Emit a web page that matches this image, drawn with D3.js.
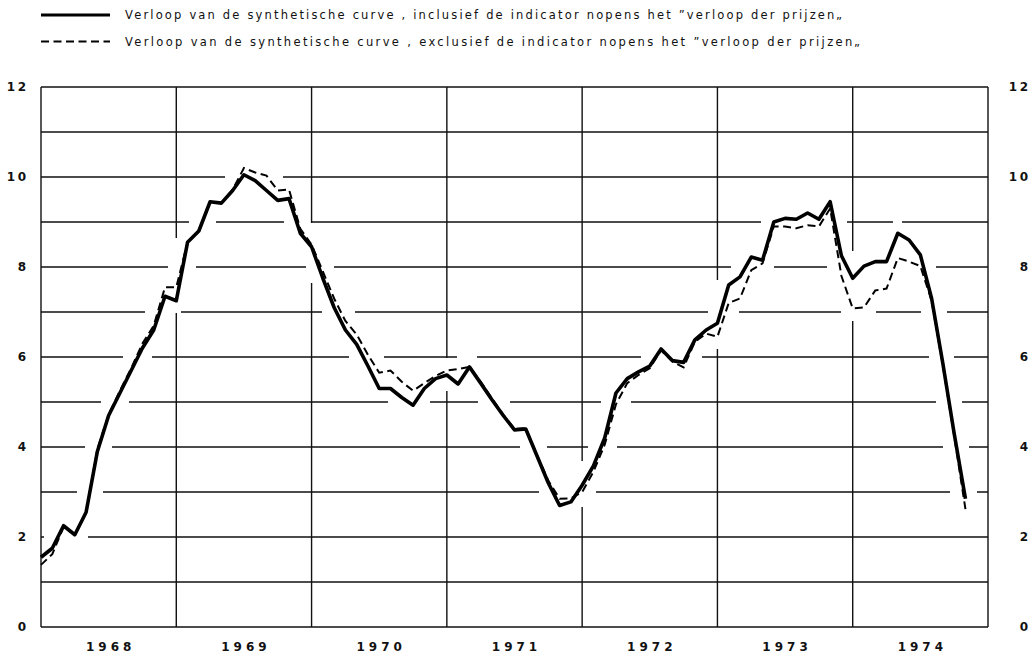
<!DOCTYPE html>
<html><head><meta charset="utf-8">
<script src="https://cdn.jsdelivr.net/npm/d3@7"></script>
<style>body{margin:0;background:#fff}</style>
</head><body>
<svg id="c" width="1035" height="658"></svg>
<script>
// ---- data ----
const years = ["1968","1969","1970","1971","1972","1973","1974"];
const yTicks = [0,2,4,6,8,10,12];
// monthly values, starting January 1968
const inclusief = [1.55,1.75,2.25,2.05,2.55,3.9,4.7,5.2,5.7,6.2,6.6,7.35,
  7.25,8.55,8.8,9.45,9.42,9.7,10.05,9.92,9.7,9.48,9.52,8.75,
  8.45,7.75,7.1,6.6,6.28,5.8,5.3,5.3,5.1,4.93,5.3,5.52,
  5.6,5.4,5.78,5.42,5.05,4.7,4.38,4.4,3.8,3.2,2.7,2.78,
  3.15,3.58,4.2,5.2,5.52,5.67,5.8,6.18,5.92,5.88,6.38,6.6,
  6.75,7.6,7.78,8.22,8.15,9.0,9.08,9.06,9.2,9.06,9.45,8.25,
  7.75,8.02,8.12,8.12,8.75,8.6,8.27,7.3,5.85,4.3,2.85];
const exclusief = [1.38,1.62,2.22,2.05,2.55,3.95,4.72,5.25,5.75,6.3,6.7,7.55,
  7.55,8.55,8.8,9.45,9.42,9.72,10.2,10.1,10.03,9.7,9.72,8.85,
  8.5,7.9,7.3,6.8,6.5,6.05,5.65,5.7,5.45,5.25,5.42,5.58,
  5.7,5.73,5.78,5.45,5.08,4.72,4.4,4.42,3.82,3.25,2.85,2.86,
  3.0,3.45,4.05,4.95,5.42,5.6,5.75,6.15,5.9,5.77,6.34,6.52,
  6.45,7.2,7.3,7.93,8.08,8.9,8.9,8.86,8.93,8.9,9.3,7.8,
  7.08,7.1,7.48,7.52,8.2,8.12,8.02,7.25,5.8,4.25,2.62];
const legendLabels = [
  "Verloop van de synthetische curve , inclusief de indicator nopens het \u201Dverloop der prijzen\u201E",
  "Verloop van de synthetische curve , exclusief de indicator nopens het \u201Dverloop der prijzen\u201E"
];

// ---- layout ----
const svg = d3.select("#c");
const x = d3.scaleLinear().domain([0, years.length*12]).range([41, 988]);
const y = d3.scaleLinear().domain([0, 12]).range([627, 87]);
const xBand = d3.scaleBand().domain(years).range([41, 988]);
const ink = "#111";

const ptsA = inclusief.map((v,i)=>[x(i), y(v)]);
const ptsB = exclusief.map((v,i)=>[x(i), y(v)]);
function distSeg(px,py,a,b){
  const dx=b[0]-a[0], dy=b[1]-a[1];
  let t=((px-a[0])*dx+(py-a[1])*dy)/(dx*dx+dy*dy);
  t=Math.max(0,Math.min(1,t));
  const qx=a[0]+t*dx-px, qy=a[1]+t*dy-py;
  return Math.sqrt(qx*qx+qy*qy);
}
function near(px,py,th){
  for(const pts of [ptsA,ptsB]){
    for(let i=0;i<pts.length-1;i++){
      if(distSeg(px,py,pts[i],pts[i+1])<th) return true;
    }
  }
  return false;
}
const TH = 12;
function brokenLine(x0,y0,x1,y1,doGap){
  const len = Math.hypot(x1-x0,y1-y0);
  const n = Math.ceil(len);
  let d = "", on = false;
  for(let k=0;k<=n;k++){
    const px = x0+(x1-x0)*k/n, py = y0+(y1-y0)*k/n;
    const vis = !doGap || !near(px,py,TH);
    if(vis && !on){ d += `M${px},${py}`; on = true; }
    else if(vis && on){ d += `L${px},${py}`; }
    else on = false;
  }
  return d;
}
const grid = svg.append("g").attr("stroke", ink).attr("stroke-width", 1.4).attr("fill","none");
d3.range(0,13).forEach(v=>{
  const gap = v>0 && v<12;
  grid.append("path").attr("d", brokenLine(x(0), y(v), x(years.length*12), y(v), gap));
});
d3.range(0, years.length+1).forEach(k=>{
  const gap = k>0 && k<years.length;
  grid.append("path").attr("d", brokenLine(x(k*12), y(12), x(k*12), y(0), gap));
});

// ---- curves ----
const line = d3.line().x((d,i)=>x(i)).y(d=>y(d));
svg.append("path").datum(exclusief).attr("d", line)
  .attr("fill","none").attr("stroke","#000").attr("stroke-width",2)
  .attr("stroke-dasharray","8,4.5");
svg.append("path").datum(inclusief).attr("d", line)
  .attr("fill","none").attr("stroke","#000").attr("stroke-width",3.6)
  .attr("stroke-linejoin","round");

// ---- axes ----
const numFont = "'DejaVu Sans', sans-serif";
const yl = svg.append("g").attr("transform","translate(28.5,0)")
  .call(d3.axisLeft(y).tickValues(yTicks).tickSize(0).tickPadding(0));
const yr = svg.append("g").attr("transform","translate(1030.5,0)")
  .call(d3.axisLeft(y).tickValues(yTicks).tickSize(0).tickPadding(0));
const xb = svg.append("g").attr("transform","translate(0,642)")
  .call(d3.axisBottom(xBand).tickSize(0).tickPadding(0));
[yl,yr,xb].forEach(g=>{
  g.select(".domain").remove();
  g.selectAll("text").attr("fill",ink).style("font-family",numFont)
    .style("font-weight","bold").style("font-size","12px");
});
[yl,yr].forEach(g=>g.selectAll("text").style("letter-spacing","2.5px"));
xb.selectAll("text").style("letter-spacing","4px").attr("dx","2");

// ---- legend ----
const lg = svg.append("g");
lg.append("line").attr("x1",41).attr("x2",110).attr("y1",15).attr("y2",15)
  .attr("stroke","#000").attr("stroke-width",3);
lg.append("line").attr("x1",41).attr("x2",110).attr("y1",41.5).attr("y2",41.5)
  .attr("stroke","#000").attr("stroke-width",2.2).attr("stroke-dasharray","8,4.5");
const legLen = [717, 735];
legendLabels.forEach((t,i)=>{
  lg.append("text").attr("x",125).attr("y", i===0?19:45.5)
    .attr("textLength", legLen[i]).attr("lengthAdjust","spacing")
    .attr("fill",ink).style("font-family",numFont).style("font-size","11.5px")
    .text(t);
});
</script>
</body></html>
